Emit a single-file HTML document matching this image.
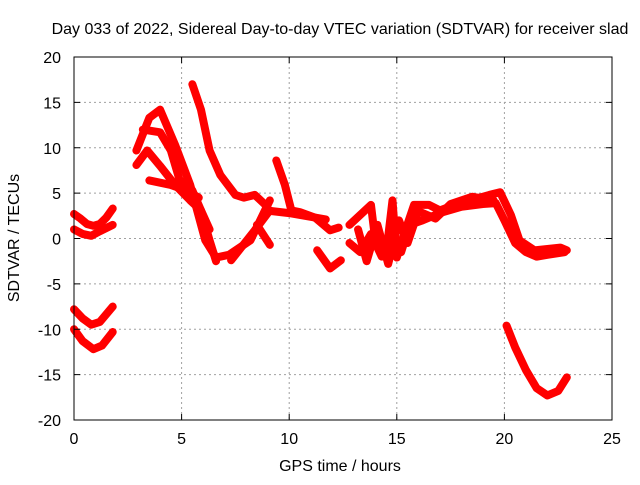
<!DOCTYPE html>
<html><head><meta charset="utf-8">
<style>
body{margin:0;background:#fff;}
svg text{font-family:"Liberation Sans",sans-serif;font-size:16px;fill:#000;}
</style></head>
<body>
<svg id="chart" width="640" height="480" viewBox="0 0 640 480" xmlns="http://www.w3.org/2000/svg">
<rect width="640" height="480" fill="#fff"/>
<text x="340" y="34" text-anchor="middle">Day 033 of 2022, Sidereal Day-to-day VTEC variation (SDTVAR) for receiver slad</text>
<g id="grid"></g>
<g id="series"></g>
<rect x="74" y="57" width="538" height="363" fill="none" stroke="#000" stroke-width="1"/>
<g id="axes"></g>
<text x="340" y="471" text-anchor="middle">GPS time / hours</text>
<text x="0" y="0" text-anchor="middle" transform="translate(19,238) rotate(-90)">SDTVAR / TECUs</text>
</svg>
<script>
const xTicks=[0,5,10,15,20,25];
const yTicks=[-20,-15,-10,-5,0,5,10,15,20];
const sA1=[[0,2.7],[0.3,2.2],[0.6,1.6],[0.9,1.4],[1.2,1.6],[1.5,2.3],[1.8,3.3]];
const sA2=[[0,1.0],[0.4,0.5],[0.8,0.3],[1.2,0.8],[1.8,1.5]];
const sA3=[[0,-7.8],[0.4,-8.8],[0.8,-9.5],[1.2,-9.2],[1.8,-7.5]];
const sA4=[[0,-10],[0.4,-11.3],[0.9,-12.2],[1.3,-11.8],[1.8,-10.3]];
const sB1=[[2.9,9.7],[3.5,13.3],[4,14.2],[4.7,10.3],[5.4,5.9],[6.1,-0.2],[6.6,-2.1],[7.2,-1.8],[8.2,-0.2],[9.1,4.2]];
const sB2=[[2.9,8.1],[3.4,9.7],[4,8],[4.7,5.9],[5.4,4.2],[5.9,3.1],[6.3,-0.2],[6.6,-2.5]];
const sB2b=[[7.3,-2.4],[8.4,0.9],[9.1,3.1]];
const sB3=[[3.2,12],[4,11.7],[4.5,9.7],[4.9,6.5],[5.5,5.3],[5.9,3.1],[6.3,1]];
const sB4=[[3.5,6.4],[4.5,5.9],[5.2,5.3],[5.8,4.5]];
const sC=[[5.5,17],[5.9,14.2],[6.3,9.7],[6.8,7],[7.5,4.8],[7.9,4.5],[8.4,4.8],[8.9,3.7]];
const sC2=[[8.5,1.5],[9.1,-0.7]];
const sD=[[9.4,8.6],[9.8,5.9],[10.1,3.1],[10.5,2.9],[11.2,2.3],[11.9,0.9],[12.3,1.2]];
const sD2=[[8.9,3.1],[10,2.8],[11.7,2.1]];
const sD3=[[11.3,-1.3],[11.9,-3.3],[12.4,-2.4]];
const sE=[[12.8,1.5],[13.3,2.6],[13.8,3.7],[14,-0.2],[14.5,-1.8],[14.8,4.2],[15,-2.1],[15.4,0.9],[15.8,3.7],[16.5,3.7],[17,3.1],[17.7,3.7],[18.4,4.2],[19.3,4.8],[19.8,5.1],[20.3,2.6],[20.7,-0.2],[21.4,-1.3],[22.6,-1],[22.9,-1.3]];
const sF=[[12.8,-0.5],[13.3,-1.5],[13.8,0.5],[14.3,-2],[14.8,0],[15.2,-1.5],[15.6,1.5],[16.2,2],[17,2.8],[18,3.5],[19,3.8],[19.6,3.9],[20,2],[20.5,-0.5],[21,-1.5],[21.5,-2],[22,-1.8],[22.8,-1.5]];
const sF2=[[13.2,1],[13.6,-2.5],[14.1,1.5],[14.6,-2.8],[15.1,2],[15.5,-0.5],[16,3],[16.8,2.2],[17.5,3.8],[18.5,4.6],[19.5,4.2]];
const sG=[[20.1,-9.6],[20.5,-12],[21,-14.5],[21.5,-16.5],[22,-17.3],[22.5,-16.8],[22.9,-15.3]];
const allSeries=[sA1,sA2,sA3,sA4,sB1,sB2,sB2b,sB3,sB4,sC,sC2,sD,sD2,sD3,sE,sF,sF2,sG];
const NS="http://www.w3.org/2000/svg";
const X=v=>74+v*538/25, Y=v=>238.5-v*363/40;
const grid=document.getElementById('grid'),axes=document.getElementById('axes'),ser=document.getElementById('series');
function mk(t,a,p){const e=document.createElementNS(NS,t);for(const k in a)e.setAttribute(k,a[k]);p.appendChild(e);return e;}
xTicks.forEach(t=>{
 const l=mk('line',{x1:X(t),x2:X(t),y1:57,y2:420,stroke:'#a0a0a0','stroke-dasharray':'2,3'},grid);
 
 
 mk('line',{x1:X(t),x2:X(t),y1:420,y2:414,stroke:'#000'},axes);
 mk('line',{x1:X(t),x2:X(t),y1:57,y2:63,stroke:'#000'},axes);
 const tx=mk('text',{x:X(t),y:444,'text-anchor':'middle'},axes);tx.textContent=t;
 
 
});
yTicks.forEach(t=>{
 const l=mk('line',{x1:74,x2:612,y1:Y(t),y2:Y(t),stroke:'#a0a0a0','stroke-dasharray':'2,3'},grid);
 
 
 mk('line',{x1:74,x2:80,y1:Y(t),y2:Y(t),stroke:'#000'},axes);
 mk('line',{x1:606,x2:612,y1:Y(t),y2:Y(t),stroke:'#000'},axes);
 const tx=mk('text',{x:61,y:Y(t)+6,'text-anchor':'end'},axes);tx.textContent=t;
 
 
});
allSeries.forEach(s=>{
 const p=mk('polyline',{points:s.map(d=>X(d[0])+','+Y(d[1])).join(' '),fill:'none',stroke:'#ff0000','stroke-width':8,'stroke-linejoin':'round','stroke-linecap':'round'},ser);
 
 
});
</script>
</body></html>
